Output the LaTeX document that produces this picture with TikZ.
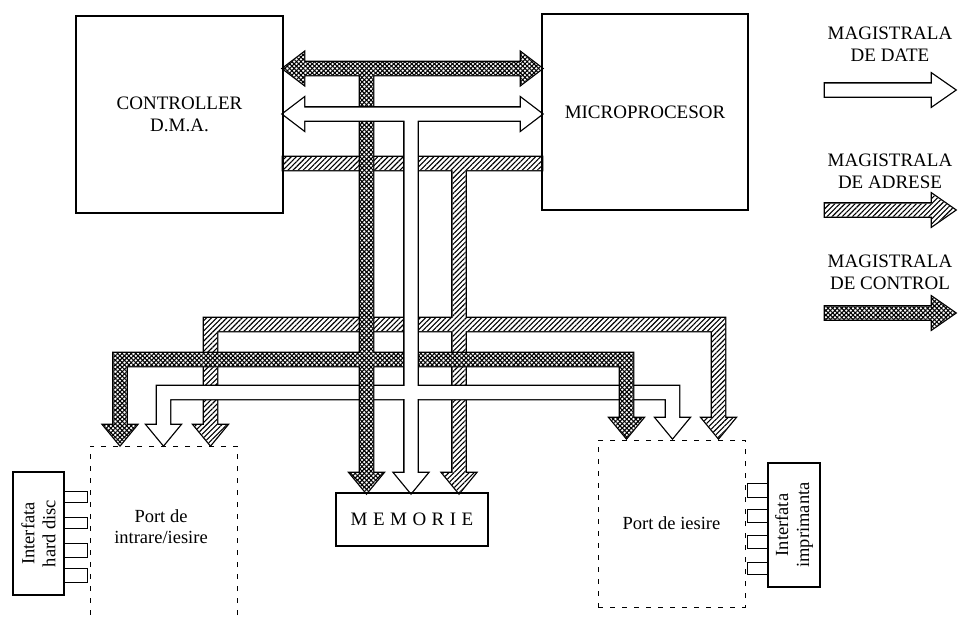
\documentclass[tikz,border=0pt]{standalone}
\usepackage{fontspec}
\setmainfont{Liberation Serif}
\usetikzlibrary{patterns.meta}

\newcommand{\busH}[3]{(#1,#3-6.5) -- (#2,#3-6.5) -- (#2,#3+6.5) -- (#1,#3+6.5) -- cycle}
\newcommand{\busV}[3]{(#1-6.5,#2) -- (#1+6.5,#2) -- (#1+6.5,#3) -- (#1-6.5,#3) -- cycle}
\newcommand{\tipD}[3]{(#1-16.5,#2) -- (#1+16.5,#2) -- (#1,#3) -- cycle}
\newcommand{\tipL}[3]{(#1,#2) -- (#3,#2-16) -- (#3,#2+16) -- cycle}
\newcommand{\tipR}[3]{(#1,#2) -- (#3,#2+16) -- (#3,#2-16) -- cycle}

\begin{document}
\begin{tikzpicture}[x=1pt,y=-1pt,
		box/.style={draw,line width=1.2pt,inner sep=0pt,align=center,
			font=\fontsize{19}{22}\selectfont},
		port/.style={draw,line width=1pt,dash pattern=on 5pt off 7pt,inner sep=0pt},
		lbl/.style={align=center,font=\fontsize{18.5}{21}\selectfont},
		busedge/.style={line width=2.6pt,line join=miter},
		datafill/.style={fill=white},
		addrfill/.style={fill=white,
			postaction={pattern={Lines[angle=45,distance=3.6pt,line width=1.1pt]}}},
		ctrlfill/.style={fill=white,
			postaction={pattern={Lines[angle=45,distance=3.2pt,line width=1.1pt]}},
			postaction={pattern={Lines[angle=-45,distance=3.2pt,line width=1.1pt]}}},
		pin/.style={line width=0.9pt}]
				\useasboundingbox (0,0) rectangle (958,616);

				\def\addrbus{\busH{283}{542}{163.5}
					\busV{459}{163.5}{475} \tipD{459}{473}{493}
					\busH{204}{725}{324.5}
					\busV{210.5}{324.5}{427} \tipD{210.5}{425}{445}
					\busV{718.5}{324.5}{420} \tipD{718.5}{418}{438}}
				\def\datalow{\busH{157}{679}{392.5}
					\busV{163.5}{392.5}{427} \tipD{163.5}{425}{445}
					\busV{672.5}{392.5}{420} \tipD{672.5}{418}{438}}
				\def\ctrlbus{\busH{300}{525}{68.5}
					\tipL{283}{68.5}{304} \tipR{542}{68.5}{521}
					\busV{366.5}{68.5}{475} \tipD{366.5}{473}{493}
					\busH{113.5}{633}{359.5}
					\busV{120}{359.5}{427} \tipD{120}{425}{445}
					\busV{626.5}{359.5}{420} \tipD{626.5}{418}{438}}
				\def\datatrunk{\busH{300}{525}{114}
					\tipL{283}{114}{304} \tipR{542}{114}{521}
					\busV{411}{114}{475} \tipD{411}{473}{493}}

				% magistrala de adrese
				\draw[busedge] \addrbus;
				\fill[addrfill] \addrbus;

				% magistrala de date, partea de jos
				\draw[busedge] \datalow;
				\fill[datafill] \datalow;

				% magistrala de control
				\draw[busedge] \ctrlbus;
				\fill[ctrlfill] \ctrlbus;

				% magistrala de date, trunchi
				\draw[busedge] \datatrunk;
				\fill[datafill] \datatrunk;
				\fill[white] (402,386.4) rectangle (420,398.6);

				\node[box,minimum width=207pt,minimum height=197pt] (dma)
					at (179.5,114.5) {CONTROLLER\\D.M.A.};
				\node[box,minimum width=206pt,minimum height=196pt] (cpu)
					at (645,112) {MICROPROCESOR};
				\node[box,minimum width=152pt,minimum height=53pt] (mem)
					at (412,519.5) {M\kern5.5pt E\kern5.5pt M\kern5.5pt O\kern5.5pt R\kern5.5pt I\kern5.5pt E};

				\node[port,minimum width=147pt,minimum height=214pt] (portin)
					at (163.5,553) {};
				\node[lbl] (portinlbl) at (161,527) {Port de\\intrare/iesire};
				\node[port,lbl,minimum width=147pt,minimum height=167pt] (portout)
					at (671.5,523.5) {Port de iesire};

				\node[box,lbl,rotate=90,minimum width=123pt,minimum height=51pt] (hdd)
					at (38.5,533.5) {Interfata\\hard disc};
				\node[box,lbl,rotate=90,minimum width=124pt,minimum height=52pt] (prn)
					at (794,525) {Interfata\\imprimanta};

				\foreach \ya/\yb in {491/502,517/528,543/557,568/582}
				{
					\draw[pin] (64,\ya) -- (87,\ya) -- (87,\yb) -- (64,\yb);
				}
				\foreach \ya/\yb in {483/497,509/522,535/548,562/574}
				{
					\draw[pin] (768,\ya) -- (747,\ya) -- (747,\yb) -- (768,\yb);
				}

				% legenda
				\node[box,draw=none] (legdate) at (890,44) {MAGISTRALA\\DE DATE};
				\node[box,draw=none] (legadr) at (890,171) {MAGISTRALA\\DE ADRESE};
				\node[box,draw=none] (legctrl) at (890,272) {MAGISTRALA\\DE CONTROL};

				\draw[busedge] \busH{825}{933}{90} \tipR{955}{90}{932};
				\fill[datafill] \busH{825}{933}{90} \tipR{955}{90}{932};
				\draw[busedge] \busH{825}{933}{210} \tipR{955}{210}{932};
				\fill[addrfill] \busH{825}{933}{210} \tipR{955}{210}{932};
				\draw[busedge] \busH{825}{933}{313} \tipR{955}{313}{932};
				\fill[ctrlfill] \busH{825}{933}{313} \tipR{955}{313}{932};
\end{tikzpicture}
\end{document}
